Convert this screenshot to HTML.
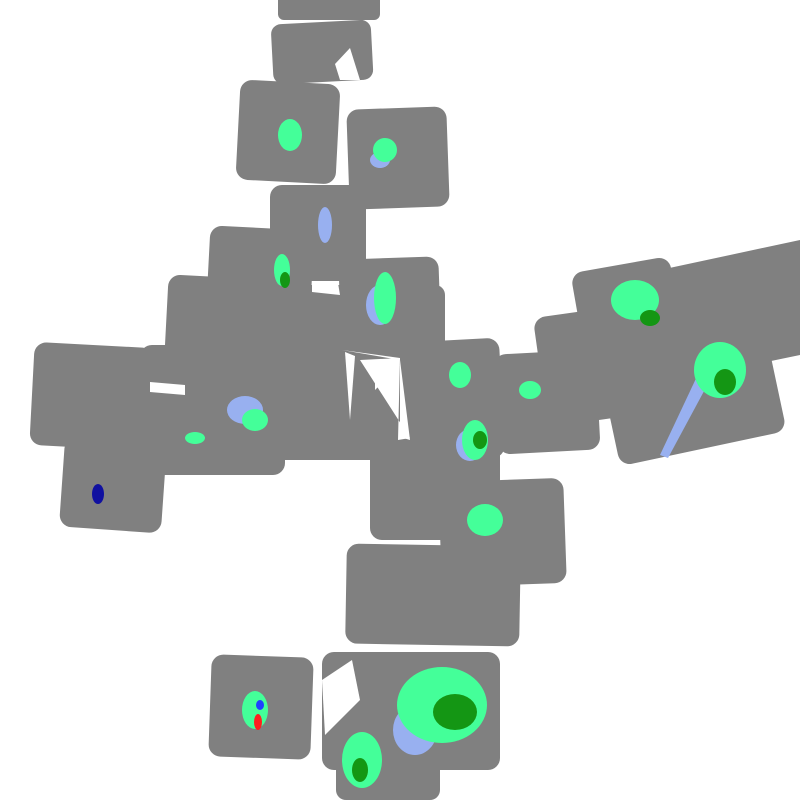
<!DOCTYPE html>
<html><head><style>html,body{margin:0;padding:0;background:#fff;width:800px;height:800px;overflow:hidden}</style></head><body>
<svg width="800" height="800" viewBox="0 0 800 800" xmlns="http://www.w3.org/2000/svg">
<g fill="#808080">
<rect x="278" y="-20" width="102" height="40" rx="6"/>
<rect x="272" y="22" width="100" height="60" rx="10" transform="rotate(-3 322 50)"/>
<rect x="238" y="82" width="100" height="100" rx="12" transform="rotate(3 288 132)"/>
<rect x="348" y="108" width="100" height="100" rx="12" transform="rotate(-2 398 158)"/>
<rect x="270" y="185" width="96" height="96" rx="12"/>
<rect x="208" y="228" width="104" height="94" rx="12" transform="rotate(3 260 275)"/>
<rect x="166" y="277" width="104" height="100" rx="12" transform="rotate(3 218 327)"/>
<rect x="340" y="258" width="100" height="98" rx="12" transform="rotate(-2 390 307)"/>
<rect x="255" y="285" width="190" height="175" rx="10"/>
<rect x="32" y="345" width="120" height="103" rx="12" transform="rotate(3 92 396)"/>
<rect x="140" y="345" width="145" height="130" rx="12"/>
<rect x="62" y="440" width="102" height="90" rx="12" transform="rotate(4 113 485)"/>
<rect x="370" y="440" width="130" height="100" rx="12"/>
<rect x="410" y="340" width="92" height="120" rx="12" transform="rotate(-3 456 400)"/>
<rect x="496" y="352" width="102" height="100" rx="12" transform="rotate(-3 547 402)"/>
<rect x="540" y="310" width="110" height="110" rx="12" transform="rotate(-8 595 365)"/>
<rect x="578" y="264" width="100" height="96" rx="12" transform="rotate(-10 628 312)"/>
<rect x="605" y="320" width="170" height="130" rx="12" transform="rotate(-12 690 385)"/>
<polygon points="660,270 800,240 800,355 680,380"/>
<rect x="440" y="480" width="125" height="105" rx="12" transform="rotate(-2 502 532)"/>
<rect x="346" y="545" width="174" height="100" rx="12" transform="rotate(1 433 595)"/>
<rect x="210" y="656" width="102" height="102" rx="12" transform="rotate(2 261 707)"/>
<rect x="322" y="652" width="178" height="118" rx="12"/>
<rect x="336" y="700" width="104" height="100" rx="10"/>
</g>
<g fill="#fff">
<polygon points="312,283 338,283 340,295 312,292"/>
<polygon points="342,350 400,358 400,437 410,440 400,360"/>
<polygon points="345,352 355,356 350,420"/>
<polygon points="360,360 400,358 398,440 410,438"/>
<polygon points="375,372 400,365 375,390"/>
<polygon points="335,64 350,48 360,80 340,80"/>
<polygon points="322,680 352,660 360,700 325,735"/>
<polygon points="150,382 185,385 185,395 150,392"/>
</g>
<g fill="#98b0f0">
<ellipse cx="245" cy="410" rx="18" ry="14"/>
<ellipse cx="380" cy="305" rx="14" ry="20"/>
<ellipse cx="470" cy="445" rx="14" ry="16"/>
<ellipse cx="415" cy="730" rx="22" ry="25"/>
<polygon points="660,455 700,370 710,380 668,458"/>
<ellipse cx="325" cy="225" rx="7" ry="18"/>
<ellipse cx="380" cy="160" rx="10" ry="8"/>
</g>
<g fill="#44ff99">
<ellipse cx="290" cy="135" rx="12" ry="16"/>
<ellipse cx="385" cy="150" rx="12" ry="12"/>
<ellipse cx="385" cy="298" rx="11" ry="26"/>
<ellipse cx="475" cy="440" rx="13" ry="20"/>
<ellipse cx="460" cy="375" rx="11" ry="13"/>
<ellipse cx="530" cy="390" rx="11" ry="9"/>
<ellipse cx="635" cy="300" rx="24" ry="20"/>
<ellipse cx="720" cy="370" rx="26" ry="28"/>
<ellipse cx="442" cy="705" rx="45" ry="38"/>
<ellipse cx="362" cy="760" rx="20" ry="28"/>
<ellipse cx="485" cy="520" rx="18" ry="16"/>
<ellipse cx="255" cy="420" rx="13" ry="11"/>
<ellipse cx="195" cy="438" rx="10" ry="6"/>
<ellipse cx="282" cy="270" rx="8" ry="16"/>
<ellipse cx="255" cy="710" rx="13" ry="19"/>
</g>
<g fill="#149614">
<ellipse cx="455" cy="712" rx="22" ry="18"/>
<ellipse cx="650" cy="318" rx="10" ry="8"/>
<ellipse cx="725" cy="382" rx="11" ry="13"/>
<ellipse cx="480" cy="440" rx="7" ry="9"/>
<ellipse cx="285" cy="280" rx="5" ry="8"/>
<ellipse cx="360" cy="770" rx="8" ry="12"/>
</g>
<ellipse cx="98" cy="494" rx="6" ry="10" fill="#1010a0"/>
<ellipse cx="258" cy="722" rx="4" ry="8" fill="#ff2020"/>
<ellipse cx="260" cy="705" rx="4" ry="5" fill="#2040ff"/>
</svg>
</body></html>
